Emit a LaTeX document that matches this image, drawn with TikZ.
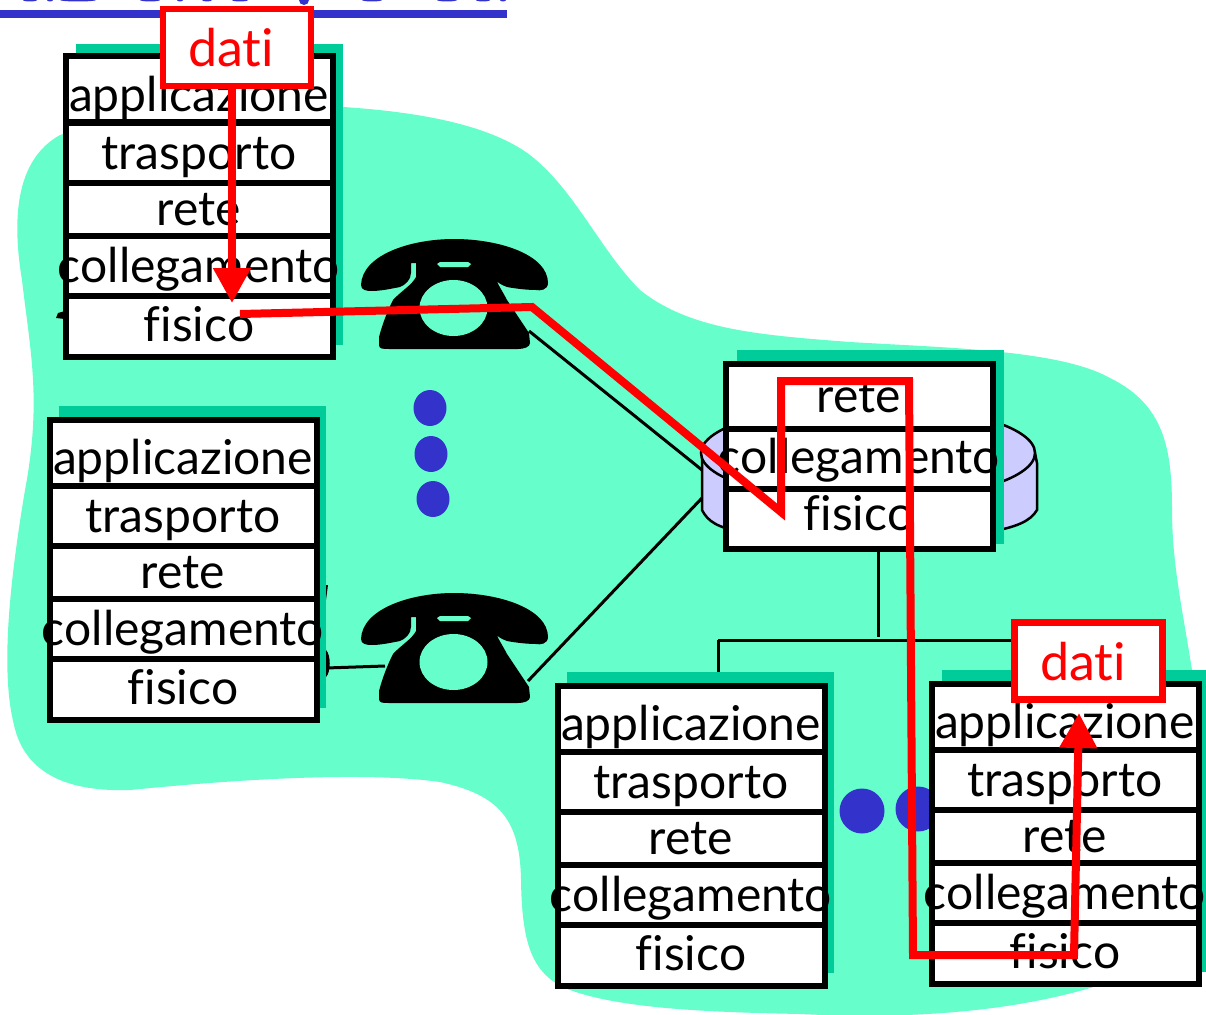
\documentclass[tikz,border=0pt]{standalone}
\usepackage{fontspec}
\usepackage{tikz}
\usetikzlibrary{shapes.geometric, arrows.meta}
\setmainfont[Ligatures=NoCommon]{Lato}
\definecolor{blobgreen}{HTML}{66FFCC}
\definecolor{shadowgreen}{HTML}{00CC99}
\definecolor{dotblue}{HTML}{3333CC}
\definecolor{hubblue}{HTML}{CCCCFF}
\begin{document}
\begin{tikzpicture}[x=1pt,y=-1pt]
	\tikzstyle{rect} = [rectangle, minimum width=267pt, minimum height=#1, inner sep=0pt, text centered, draw=black, fill=white, line width=6pt, font=\fontsize{48}{52}\selectfont, text height=36pt, text depth=6pt]
	\tikzstyle{toprect} = [rect=#1, text height=46pt]
	\tikzstyle{shadow} = [fill=shadowgreen, draw=none]
	\tikzstyle{dot} = [ellipse, minimum width=#1, minimum height=#1, inner sep=0pt, fill=dotblue]
	\tikzstyle{dati} = [rectangle, minimum width=148pt, minimum height=77pt, inner sep=0pt, draw=red, fill=white, line width=6.5pt, text=red, font=\fontsize{52}{55}\selectfont, text height=45pt, text depth=6pt]
	\tikzstyle{wire} = [black, line width=3pt]
	\tikzstyle{arrow} = [red, line width=8pt, -{Triangle[width=36pt,length=35pt]}]
	\tikzset{phone/.pic={
		\fill [black] (361,285) .. controls (362,255) and (410,239) .. (454,239) .. controls (500,239) and (548,255) .. (548,283) .. controls (548,290) and (540,291) .. (536,290) .. controls (525,290) and (512,288) .. (507,287) .. controls (499,284) and (493,280) .. (493,273) -- (495,263) -- (498,263) -- (495,277) .. controls (498,285) and (503,292) .. (507,300) -- (529,333) -- (530,343) .. controls (530,347) and (524,349) .. (518,349) -- (389,349) .. controls (383,349) and (379,349) .. (379,345) -- (379,337) .. controls (383,322) and (388,310) .. (393,300) .. controls (400,292) and (412,285) .. (416,277) -- (416,263) -- (411,263) -- (411,273) .. controls (411,280) and (405,285) .. (400,287) .. controls (390,289) and (380,291) .. (372,291) .. controls (366,291) and (361,290) .. (361,285) -- cycle;
		\fill [blobgreen] (453.5,308) ellipse [x radius=34, y radius=28];
		\fill [blobgreen] (440,262) -- (468,262) -- (471,264) -- (468,267) -- (440,267) -- (437,264) -- cycle;
	}}

	\useasboundingbox (0,0) rectangle (1206,1014);

	% cloud
	\fill [blobgreen] (60,135) .. controls (150,105) and (290,100) .. (343,107) .. controls (420,112) and (490,125) .. (530,155) .. controls (575,190) and (600,250) .. (640,290) .. controls (690,330) and (760,335) .. (850,342) .. controls (950,348) and (1060,350) .. (1110,378) .. controls (1165,405) and (1172,450) .. (1172,510) .. controls (1172,570) and (1185,620) .. (1195,690) -- (1100,985) .. controls (1020,1010) and (920,1020) .. (800,1014) .. controls (700,1012) and (620,1008) .. (570,990) .. controls (530,975) and (522,940) .. (521,880) .. controls (520,820) and (500,795) .. (440,782) .. controls (370,772) and (250,778) .. (130,790) .. controls (70,792) and (25,775) .. (14,725) .. controls (0,670) and (10,580) .. (25,490) .. controls (42,400) and (30,350) .. (22,280) .. controls (12,220) and (15,160) .. (60,135) -- cycle;

	% heading, cut off by the page
	\fill [dotblue] (0,10.5) rectangle (507,18);
	\foreach \x/\w in {30/7,50/3,78/18,150/10,180/3,207/5,240/8,372/10,447/10,483/7,503/3}
		\fill [dotblue] (\x,0) ellipse [x radius=\w, y radius=1.5];
	\fill [dotblue] (304,0) circle (5);

	% dots
	\node (dotA) at (430,408) [dot=33pt, minimum height=36pt] {};
	\node (dotB) at (431,454) [dot=33pt, minimum height=36pt] {};
	\node (dotC) at (433,499) [dot=33pt, minimum height=36pt] {};
	\node (dotD) at (862,811) [dot=45pt] {};
	\node (dotE) at (918,809) [dot=45pt] {};

	% phones
	\pic at (0,0) {phone};
	\pic at (0,354) {phone};
	\coordinate (phoneA) at (529,331);
	\coordinate (phoneB) at (528,681);
	\coordinate (phoneBleft) at (385,666);
	\coordinate (stackB) at (326,668);
	\coordinate (hubA) at (702,470);
	\coordinate (hubB) at (702,498);
	\coordinate (hubDown) at (878,550);
	\coordinate (busMid) at (878,637);
	\coordinate (busL) at (718,640);
	\coordinate (busR) at (1015,640);
	\coordinate (dropC) at (718,674);
	\draw [wire] (phoneA) -- (hubA);
	\draw [wire] (phoneB) -- (hubB);
	\draw [wire] (stackB) -- (phoneBleft);
	\draw [wire] (hubDown) -- (busMid);
	\draw [wire] (busL) -- (busR);
	\draw [wire] (busL) -- (dropC);

	% shadows
	\fill [shadow] (76,44) rectangle (343,345);
	\fill [shadow] (59,406) rectangle (326,708);
	\fill [shadow] (567,672) rectangle (834,973);
	\fill [shadow] (942,670) rectangle (1206,972);
	\fill [black] (326,650) .. controls (331,655) and (331,672) .. (326,677) -- cycle;
	\fill [black] (326,585) -- (328,585) -- (326,600) -- cycle;
	\fill [black] (65,311) -- (58,313) -- (56,318) -- (65,319) -- cycle;

	% hub
	\draw [line width=2.5pt, fill=hubblue] (702,453) -- (702,510) .. controls (708,522) and (718,527) .. (740,532) -- (990,532) .. controls (1015,527) and (1030,522) .. (1037,510) -- (1037,463) -- (1035,453) -- cycle;
	\draw [line width=2.5pt, fill=hubblue] (868,453) ellipse [x radius=167, y radius=48];
	\fill [shadow] (737,350) rectangle (1004,544);

	% stacks
	\node (appA) at (199,91) [toprect=69pt] {applicazione};
	\node (traA) at (199,154) [rect=63pt] {trasporto};
	\node (retA) at (199,210.5) [rect=56pt] {rete};
	\node (colA) at (199,267) [rect=63pt] {\makebox[0pt]{collegamento}};
	\node (fisA) at (199,326.25) [rect=61.5pt] {fisico};

	\node (appB) at (183,454) [toprect=69pt] {applicazione};
	\node (traB) at (183,517) [rect=63pt] {trasporto};
	\node (retB) at (183,573.5) [rect=56pt] {rete};
	\node (colB) at (183,630) [rect=63pt] {\makebox[0pt]{collegamento}};
	\node (fisB) at (183,689.25) [rect=61.5pt] {fisico};

	\node (appC) at (691,720) [toprect=69pt] {applicazione};
	\node (traC) at (691,783) [rect=63pt] {trasporto};
	\node (retC) at (691,839.5) [rect=56pt] {rete};
	\node (colC) at (691,896) [rect=63pt] {\makebox[0pt]{collegamento}};
	\node (fisC) at (691,955.25) [rect=61.5pt] {fisico};

	\node (appD) at (1065,718) [toprect=69pt] {applicazione};
	\node (traD) at (1065,781) [rect=63pt] {trasporto};
	\node (retD) at (1065,837.5) [rect=56pt] {rete};
	\node (colD) at (1065,894) [rect=63pt] {\makebox[0pt]{collegamento}};
	\node (fisD) at (1065,953.25) [rect=61.5pt] {fisico};

	\node (retR) at (859,397.5) [rect=68pt] {rete};
	\node (colR) at (859,460) [rect=63pt, text depth=10pt] {\makebox[0pt]{collegamento}};
	\node (fisR) at (859,518.5) [rect=60pt, text depth=12pt] {fisico};

	% data
	\node (datiA) at (237,47.5) [dati] {dati\kern12pt};
	\node (datiB) at (1088.5,661) [dati] {dati\kern11pt};
	\coordinate (tipA) at (232,303);
	\coordinate (sendA) at (240,314);
	\coordinate (bend) at (532,307);
	\coordinate (inR) at (781,512);
	\coordinate (upL) at (781,381);
	\coordinate (upR) at (909,381);
	\coordinate (downR) at (913,955);
	\coordinate (inD) at (1074,955);
	\coordinate (tipD) at (1079,713);

	\draw [arrow] (tipA |- datiA.south) -- (tipA);
	\draw [arrow] (sendA) -- (bend) -- (inR) -- (upL) -- (upR) -- (downR) -- (inD) -- (tipD);
\end{tikzpicture}
\end{document}
